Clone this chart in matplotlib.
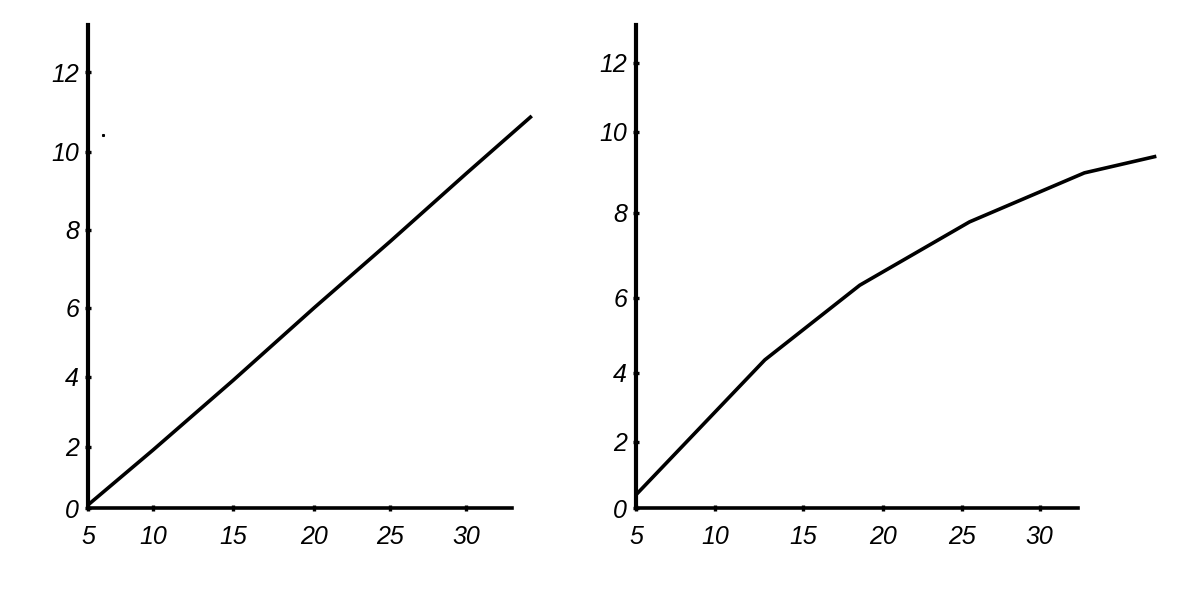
import matplotlib
matplotlib.use('Agg')
import matplotlib.pyplot as plt
import numpy as np

# values read against the hand drawn ticks
left_x = [5, 10, 15, 20, 25, 30, 34.3]
left_y = [0.1, 1.9, 3.9, 6.0, 7.7, 9.44, 10.9]
right_x = [5, 12.84, 18.56, 25.5, 32.8, 37.3]
right_y = [0.4, 4.35, 6.3, 7.79, 8.99, 9.4]
speck_x = [6.15]
speck_y = [10.43]

x_ticks = [5, 10, 15, 20, 25, 30]
y_ticks = [0, 2, 4, 6, 8, 10, 12]
x_labels = ['5', '10', '15', '20', '25', '30']
y_labels = ['0', '2', '4', '6', '8', '10', '12']

W, H = 1190, 598

# the ticks are not evenly spaced in the drawing, so each axis gets its own scale
left_x_px = [23, 88, 153, 233, 314, 390, 466, 542, 618]
left_y_px = [569, 508, 447, 377, 308, 230, 152, 73, -6]
right_x_px = [556, 636, 715, 803, 883, 962, 1040, 1120, 1200]
right_y_px = [574, 508, 442, 373, 298, 213, 132, 63, -6]
x_knots = [0, 5, 10, 15, 20, 25, 30, 35, 40]
y_knots = [-2, 0, 2, 4, 6, 8, 10, 12, 14]


def make_scale(knots, px):
    knots = np.array(knots, float)
    px = np.array(px, float)
    if px[0] > px[-1]:
        px = -px

    def forward(v):
        return np.interp(v, knots, px)

    def inverse(v):
        return np.interp(v, px, knots)
    return forward, inverse


def draw_panel(box, x, y, xlim, ylim, x_px, y_px):
    l, t, r, b = box
    ax = fig.add_axes([l / W, 1 - b / H, (r - l) / W, (b - t) / H])
    ax.set_xscale('function', functions=make_scale(x_knots, x_px))
    ax.set_yscale('function', functions=make_scale(y_knots, y_px))
    ax.plot(x, y, color='black', lw=2.6, clip_on=False, solid_capstyle='butt')
    ax.set_xlim(*xlim)
    ax.set_ylim(*ylim)
    ax.spines['top'].set_visible(False)
    ax.spines['right'].set_visible(False)
    ax.spines['left'].set_linewidth(3)
    ax.spines['bottom'].set_linewidth(2.6)
    ax.set_xticks(x_ticks)
    ax.set_xticklabels(x_labels)
    ax.set_yticks(y_ticks)
    ax.set_yticklabels(y_labels)
    ax.minorticks_off()
    ax.tick_params(axis='x', length=5, width=2.4, direction='inout', labelsize=18, pad=10)
    ax.tick_params(axis='y', length=5, width=2.4, direction='inout', labelsize=18, pad=4)
    for lab in ax.get_xticklabels() + ax.get_yticklabels():
        lab.set_fontstyle('italic')
        lab.set_family('Liberation Sans')
    return ax


fig = plt.figure(figsize=(W / 100, H / 100), dpi=100)
ax1 = draw_panel((88, 25, 512, 508), left_x, left_y, (5, 33.0), (0, 13.2), left_x_px, left_y_px)
ax1.plot(speck_x, speck_y, 's', color='black', ms=1.2)
draw_panel((636, 25, 1078, 508), right_x, right_y, (5, 32.4), (0, 13.1), right_x_px, right_y_px)
plt.savefig('out.png', dpi=100)
